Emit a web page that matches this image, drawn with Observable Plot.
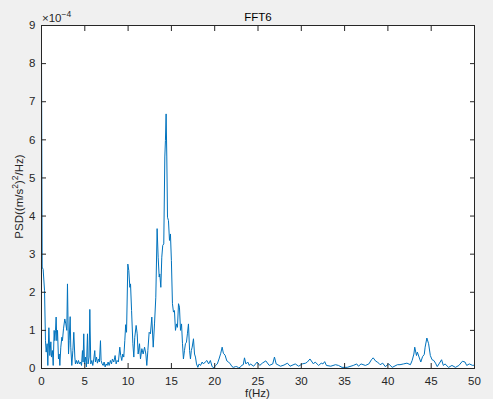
<!DOCTYPE html>
<html>
<head>
<meta charset="utf-8">
<script src="https://cdn.jsdelivr.net/npm/d3@7"></script>
<script src="https://cdn.jsdelivr.net/npm/@observablehq/plot@0.6"></script>
<style>
  html, body { margin: 0; padding: 0; background: #f0f0f0; }
  #chart { width: 493px; height: 399px; }
</style>
</head>
<body>
<div id="chart"></div>
<script>
// Frequency (Hz)
const freq = [
  0.00,0.08,0.19,0.35,0.46,0.54,0.65,0.73,0.85,0.96,1.08,1.15,1.27,1.35,1.46,1.54,1.62,1.69,1.77,1.85,
  1.96,2.04,2.12,2.23,2.35,2.42,2.54,2.69,2.81,2.92,3.00,3.12,3.19,3.31,3.38,3.50,3.62,3.73,3.85,3.92,
  4.04,4.15,4.27,4.38,4.50,4.62,4.73,4.80,4.88,4.96,5.08,5.19,5.31,5.38,5.50,5.58,5.69,5.81,5.92,6.04,
  6.15,6.23,6.35,6.46,6.58,6.69,6.81,6.88,7.00,7.12,7.23,7.35,7.46,7.58,7.69,7.81,7.96,8.08,8.19,8.35,
  8.50,8.62,8.73,8.88,9.04,9.15,9.27,9.38,9.50,9.62,9.72,9.82,9.97,10.08,10.20,10.28,10.40,10.55,10.66,10.77,
  10.93,11.05,11.16,11.32,11.43,11.59,11.74,11.90,12.05,12.16,12.28,12.43,12.58,12.74,12.90,13.05,13.20,13.35,13.47,13.59,
  13.66,13.78,13.89,14.00,14.12,14.24,14.31,14.39,14.47,14.55,14.66,14.78,14.89,15.00,15.12,15.24,15.35,15.47,15.59,15.70,
  15.82,15.93,16.05,16.17,16.28,16.39,16.51,16.62,16.74,16.85,16.97,17.10,17.20,17.30,17.40,17.55,17.67,17.78,17.90,18.05,
  18.20,18.36,18.55,18.70,18.90,19.10,19.30,19.50,19.70,19.90,20.10,20.30,20.50,20.70,20.86,21.00,21.20,21.40,21.60,21.80,
  22.00,22.17,22.40,22.55,22.75,22.94,23.10,23.30,23.44,23.60,23.82,24.00,24.13,24.50,24.90,25.20,25.50,25.90,26.30,26.70,
  26.90,27.10,27.60,28.00,28.40,28.70,29.30,29.70,30.10,30.50,30.70,31.00,31.40,31.60,32.00,32.30,32.50,32.70,32.90,33.40,
  33.95,34.30,34.70,35.30,36.00,36.40,36.60,36.90,37.40,37.80,38.10,38.30,38.60,38.80,39.10,39.40,39.70,40.10,40.50,41.10,
  41.40,41.80,42.20,42.60,42.80,43.00,43.10,43.30,43.40,43.60,43.80,44.00,44.20,44.30,44.50,44.70,44.90,45.10,45.30,45.50,
  45.70,45.90,46.20,46.40,46.60,47.00,47.40,47.80,48.20,48.60,48.90,49.10,49.40,49.80,50.00
];
// PSD ((m/s^2)^2/Hz), in units of 1e-4
const psd = [
  8.35,2.66,2.60,2.05,0.73,0.43,0.65,0.08,1.07,0.34,0.70,0.30,0.47,0.08,1.00,0.73,1.00,1.35,0.73,1.00,
  0.25,0.38,0.08,0.56,0.82,0.73,1.04,1.30,1.17,1.00,2.22,0.38,0.73,1.36,0.56,0.08,0.47,0.95,0.30,0.12,
  0.21,0.12,0.21,0.12,0.17,0.08,0.47,0.17,0.91,0.12,0.30,0.04,0.91,0.12,0.30,1.55,0.12,0.21,0.08,0.25,
  0.47,0.17,0.30,0.14,0.25,0.17,0.73,0.21,0.12,0.08,0.17,0.04,0.12,0.08,0.17,0.08,0.21,0.12,0.25,0.17,
  0.34,0.12,0.21,0.17,0.56,0.34,0.21,0.38,0.30,0.73,1.15,0.95,2.74,2.57,2.13,2.22,1.52,0.65,0.30,0.82,
  1.13,0.91,0.38,0.65,0.25,0.52,0.38,0.56,0.38,0.08,0.47,0.95,0.91,1.35,0.56,1.17,1.87,3.67,2.92,2.40,
  2.48,2.13,2.92,3.23,3.27,5.55,5.98,6.68,5.55,3.97,3.88,3.36,3.53,2.83,1.70,1.48,1.52,1.00,1.17,1.08,
  1.70,1.61,1.00,1.17,0.65,0.25,0.47,0.65,0.69,0.91,1.17,0.47,0.25,0.47,0.56,0.78,0.38,0.30,0.12,0.03,
  0.12,0.08,0.17,0.12,0.17,0.21,0.12,0.21,0.05,0.02,0.08,0.12,0.25,0.40,0.56,0.40,0.35,0.20,0.17,0.12,
  0.05,0.03,0.05,0.05,0.02,0.03,0.08,0.10,0.28,0.12,0.17,0.08,0.12,0.06,0.17,0.08,0.14,0.20,0.08,0.12,
  0.30,0.12,0.06,0.09,0.14,0.06,0.12,0.06,0.12,0.14,0.17,0.25,0.12,0.17,0.08,0.14,0.12,0.18,0.08,0.06,
  0.10,0.08,0.03,0.03,0.08,0.12,0.06,0.12,0.08,0.12,0.23,0.28,0.19,0.17,0.10,0.14,0.05,0.12,0.03,0.10,
  0.10,0.12,0.14,0.10,0.21,0.38,0.56,0.34,0.43,0.30,0.17,0.31,0.37,0.56,0.80,0.65,0.34,0.23,0.21,0.14,
  0.05,0.12,0.23,0.08,0.12,0.03,0.08,0.03,0.08,0.19,0.17,0.08,0.12,0.08,0.09
];
const xTicks = [0,5,10,15,20,25,30,35,40,45,50];
const yTicks = [0,1,2,3,4,5,6,7,8,9];
const titleText = "FFT6";
const xLabelText = "f(Hz)";

const data = freq.map((f, i) => ({f, p: psd[i]}));
const axisColor = "#262626";
const lineColor = "#0072BD";

const chart = Plot.plot({
  width: 493,
  height: 399,
  marginLeft: 41,
  marginRight: 19,
  marginTop: 25,
  marginBottom: 31,
  style: {background: "#f0f0f0", fontFamily: "'Liberation Sans', Arial, sans-serif", fontSize: "11.5px", color: axisColor},
  x: {domain: [0, 50]},
  y: {domain: [0, 9]},
  marks: [
    Plot.frame({fill: "white", stroke: null}),
    Plot.line(data, {x: "f", y: "p", stroke: lineColor, strokeWidth: 1, clip: true}),
    Plot.frame({stroke: axisColor, strokeWidth: 1}),
    // tick labels
    Plot.axisX({anchor: "bottom", ticks: xTicks, tickSize: 0, tickPadding: 8, tickFormat: d => String(d), label: null, fill: axisColor}),
    Plot.axisY({anchor: "left", ticks: yTicks, tickSize: 0, tickPadding: 6, tickFormat: d => String(d), label: null, fill: axisColor}),
    // inward ticks on all four sides
    Plot.axisX({anchor: "bottom", ticks: xTicks, tickSize: 5, dy: -5, tickFormat: () => "", label: null, stroke: axisColor}),
    Plot.axisX({anchor: "top", ticks: xTicks, tickSize: 5, dy: 5, tickFormat: () => "", label: null, stroke: axisColor}),
    Plot.axisY({anchor: "left", ticks: yTicks, tickSize: 5, dx: 5, tickFormat: () => "", label: null, stroke: axisColor}),
    Plot.axisY({anchor: "right", ticks: yTicks, tickSize: 5, dx: -5, tickFormat: () => "", label: null, stroke: axisColor})
  ]
});

const svg = d3.select(chart);
const font = "'Liberation Sans', Arial, sans-serif";
// Title
svg.append("text").attr("x", 258).attr("y", 21).attr("text-anchor", "middle")
  .attr("font-family", font).attr("font-size", "11.5px").attr("fill", "#000").text(titleText);
// Exponent label ×10^-4
const ex = svg.append("text").attr("x", 42).attr("y", 22).attr("text-anchor", "start").attr("font-family", font)
  .attr("font-size", "11.5px").attr("fill", axisColor);
ex.append("tspan").text("×10");
ex.append("tspan").attr("dy", -5).attr("font-size", "8.5px").text("−4");
// X label
svg.append("text").attr("x", 257.5).attr("y", 397).attr("text-anchor", "middle")
  .attr("font-family", font).attr("font-size", "11.5px").attr("fill", axisColor).text(xLabelText);
// Y label
const yl = svg.append("text").attr("transform", "translate(23,196.5) rotate(-90)")
  .attr("text-anchor", "middle").attr("font-family", font).attr("font-size", "11.5px").attr("fill", axisColor);
yl.append("tspan").text("PSD((m/s");
yl.append("tspan").attr("dy", -5).attr("font-size", "8.5px").text("2");
yl.append("tspan").attr("dy", 5).text(")");
yl.append("tspan").attr("dy", -5).attr("font-size", "8.5px").text("2");
yl.append("tspan").attr("dy", 5).text("/Hz)");

document.getElementById("chart").appendChild(chart);
</script>
</body>
</html>
